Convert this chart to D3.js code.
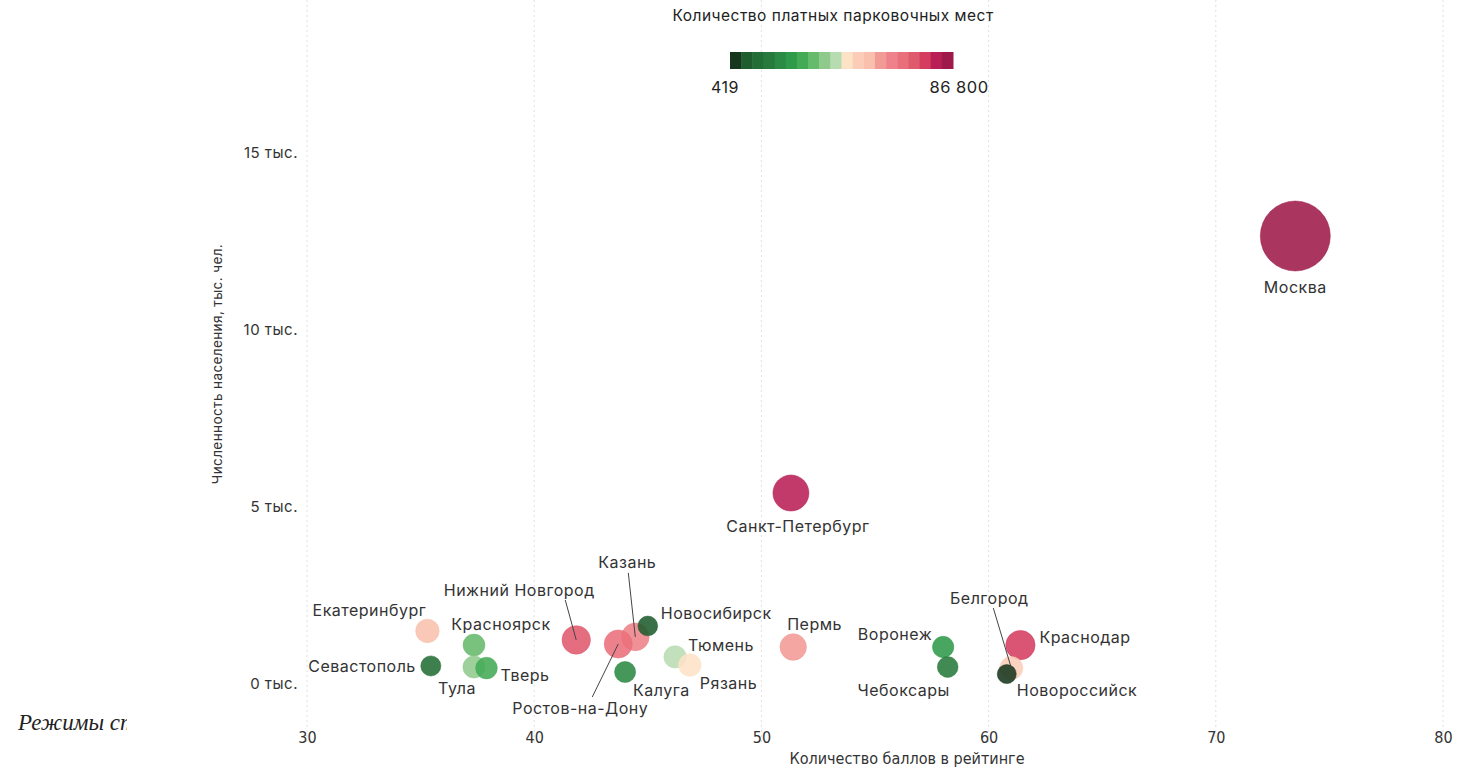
<!DOCTYPE html>
<html>
<head>
<meta charset="utf-8">
<script src="https://cdn.jsdelivr.net/npm/d3@7"></script>
<style>
  body { margin: 0; background: #fff; }
  svg { display: block; }
  .lbl { font-family: Inter, "Noto Sans", sans-serif; font-size: 16px; letter-spacing: 0.5px; fill: #333; }
  .ytick { font-family: Inter, "Noto Sans", sans-serif; font-size: 15px; letter-spacing: 0.5px; fill: #333; }
  .xtick { font-family: "DejaVu Sans Condensed", "Liberation Sans Narrow", sans-serif; font-stretch: condensed; font-size: 15px; fill: #333; }
</style>
</head>
<body>
<svg class="svg-canvas" width="1471" height="770"></svg>
<script>
var cities = ["Казань", "Ростов-на-Дону", "Москва", "Санкт-Петербург", "Екатеринбург", "Красноярск", "Севастополь",
  "Тула", "Тверь", "Нижний Новгород", "Новосибирск", "Калуга", "Тюмень", "Рязань", "Пермь",
  "Воронеж", "Чебоксары", "Краснодар", "Белгород", "Новороссийск"];
var score = [44.45, 43.7, 73.5, 51.3, 35.3, 37.35, 35.45, 37.35, 37.9, 41.85, 45.0, 44.0, 46.2, 46.85, 51.4,
  58.0, 58.2, 61.4, 61.0, 60.8];
var population = [1330, 1130, 12655, 5395, 1500, 1100, 510, 480, 450, 1245, 1640, 340, 765, 535, 1045,
  1045, 480, 1100, 450, 280];
var parking = [4500, 4800, 86800, 12500, 2000, 1300, 700, 1400, 1200, 5100, 600, 1000, 1500, 1600, 3700,
  1100, 900, 5800, 1800, 419];
var xTicks = [30, 40, 50, 60, 70, 80];
var yTicks = [0, 5000, 10000, 15000];

var palette = ["#17361e", "#1f5c2e", "#236d36", "#277a3c", "#2b8a43", "#2f9a4a", "#43ab56", "#66ba6b", "#8fca8c",
  "#b8dcb2", "#fde3c6", "#fbcdb8", "#f8c0ad", "#f29a96", "#ee8189", "#e96f7b", "#e05a6d", "#d43d60", "#b81f55", "#9e1a4a"];

// label placement: offset from circle centre, anchor, optional leader line start
var labelPos = {
  "Москва": [0, 51, "middle"],
  "Санкт-Петербург": [7, 33, "middle"],
  "Екатеринбург": [-58, -21, "middle"],
  "Красноярск": [27, -21, "middle"],
  "Севастополь": [-15, 0, "end"],
  "Тула": [-17, 21, "middle"],
  "Тверь": [14, 7, "start"],
  "Нижний Новгород": [-57, -50, "middle", [-11, -40]],
  "Казань": [-8, -75, "middle", [-7, -64]],
  "Новосибирск": [13, -13, "start"],
  "Калуга": [8, 18, "start"],
  "Тюмень": [13, -12, "start"],
  "Рязань": [10, 18, "start"],
  "Ростов-на-Дону": [-38, 64, "middle", [-26, 53]],
  "Пермь": [-6, -23, "start"],
  "Воронеж": [-11, -13, "end"],
  "Чебоксары": [-44, 23, "middle"],
  "Краснодар": [19, -8, "start"],
  "Белгород": [-22, -70, "middle", [-18, -60]],
  "Новороссийск": [10, 16, "start"]
};

var svg = d3.select(".svg-canvas");

var x = d3.scaleLinear().domain([30, 80]).range([307, 1443]);
var y = d3.scaleLinear().domain([0, 15000]).range([684, 153]);
var r = d3.scaleSqrt().domain([419, 86800]).range([9.5, 35]);
var color = d3.scaleQuantile().domain(parking).range(palette);

var data = cities.map(function(c, i) {
  return { name: c, score: score[i], pop: population[i], parking: parking[i] };
});

// background heading, cut by the chart panel
svg.append("clipPath").attr("id", "cut")
  .append("rect").attr("x", 0).attr("y", 690).attr("width", 127).attr("height", 60);
svg.append("text")
  .attr("clip-path", "url(#cut)")
  .attr("x", 18).attr("y", 730)
  .style("font-family", "'Liberation Serif', serif")
  .style("font-style", "italic")
  .style("font-size", "23px")
  .style("fill", "#222")
  .text("Режимы стоянки");

// grid
svg.selectAll(".grid")
  .data(xTicks).enter()
  .append("line")
  .attr("x1", function(d) { return x(d); })
  .attr("x2", function(d) { return x(d); })
  .attr("y1", 0)
  .attr("y2", 745)
  .attr("stroke", "#e0e0e0")
  .attr("stroke-dasharray", "2,3");

// x axis
var xAxis = svg.append("g").attr("transform", "translate(0,729)")
  .call(d3.axisBottom(x).tickValues(xTicks).tickSize(0).tickFormat(d3.format("d")));
xAxis.select(".domain").remove();
xAxis.selectAll("text").attr("class", "xtick").attr("fill", null).style("font-size", "16px");

svg.append("text")
  .attr("class", "xtick")
  .attr("x", 907).attr("y", 764)
  .attr("text-anchor", "middle")
  .style("font-size", "16px")
  .text("Количество баллов в рейтинге");

// y axis
var yAxis = svg.append("g").attr("transform", "translate(298,0)")
  .call(d3.axisLeft(y).tickValues(yTicks).tickSize(0).tickPadding(0)
    .tickFormat(function(d) { return (d / 1000) + " тыс."; }));
yAxis.select(".domain").remove();
yAxis.selectAll("text").attr("class", "ytick").attr("fill", null);

svg.append("text")
  .attr("transform", "translate(222,364) rotate(-90)")
  .attr("text-anchor", "middle")
  .style("font-family", "Inter, 'Noto Sans', sans-serif")
  .style("font-size", "13.5px")
  .style("letter-spacing", "0.4px")
  .style("fill", "#333")
  .text("Численность населения, тыс. чел.");

// bubbles
svg.selectAll(".bubble")
  .data(data).enter()
  .append("circle")
  .attr("class", "bubble")
  .attr("cx", function(d) { return x(d.score); })
  .attr("cy", function(d) { return y(d.pop); })
  .attr("r", function(d) { return r(d.parking); })
  .attr("fill", function(d) { return color(d.parking); })
  .attr("fill-opacity", 0.88)
  .attr("stroke", function(d) { return color(d.parking); })
  .attr("stroke-opacity", 0.5);

// leader lines
svg.selectAll(".leader")
  .data(data.filter(function(d) { return labelPos[d.name][3]; })).enter()
  .append("line")
  .attr("x1", function(d) { return x(d.score) + labelPos[d.name][3][0]; })
  .attr("y1", function(d) { return y(d.pop) + labelPos[d.name][3][1]; })
  .attr("x2", function(d) { return x(d.score); })
  .attr("y2", function(d) { return y(d.pop); })
  .attr("stroke", "#444")
  .attr("stroke-width", 1);

// labels
svg.selectAll(".lbl")
  .data(data).enter()
  .append("text")
  .attr("class", "lbl")
  .attr("x", function(d) { return x(d.score) + labelPos[d.name][0]; })
  .attr("y", function(d) { return y(d.pop) + labelPos[d.name][1]; })
  .attr("dy", "0.35em")
  .attr("text-anchor", function(d) { return labelPos[d.name][2]; })
  .text(function(d) { return d.name; });

// legend
var legend = svg.append("g");
legend.append("text")
  .attr("x", 833).attr("y", 21)
  .attr("text-anchor", "middle")
  .style("font-family", "Inter, 'Noto Sans', sans-serif")
  .style("font-size", "15.5px")
  .style("letter-spacing", "0.5px")
  .style("fill", "#222")
  .text("Количество платных парковочных мест");

var lx = d3.scaleBand().domain(d3.range(palette.length)).range([730, 953]);
legend.selectAll(".swatch")
  .data(palette).enter()
  .append("rect")
  .attr("x", function(d, i) { return lx(i); })
  .attr("y", 52)
  .attr("width", lx.bandwidth() + 0.5)
  .attr("height", 17)
  .attr("fill", function(d) { return d; });

legend.append("text")
  .attr("x", 725).attr("y", 93)
  .attr("text-anchor", "middle")
  .style("font-family", "Inter, 'Noto Sans', sans-serif")
  .style("font-size", "16px")
  .style("letter-spacing", "0.5px")
  .style("fill", "#222")
  .text(d3.min(parking));
legend.append("text")
  .attr("x", 959).attr("y", 93)
  .attr("text-anchor", "middle")
  .style("font-family", "Inter, 'Noto Sans', sans-serif")
  .style("font-size", "16.5px")
  .style("letter-spacing", "0.5px")
  .style("fill", "#222")
  .text(d3.format(",")(d3.max(parking)).replace(/,/g, " "));
</script>
</body>
</html>
